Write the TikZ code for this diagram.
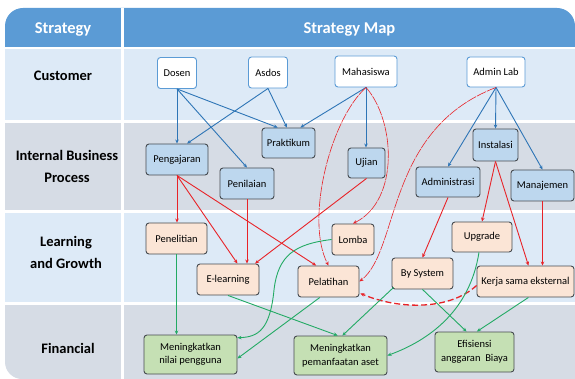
\documentclass[tikz,border=0pt]{standalone}
\usepackage{fontspec}
\setmainfont{Carlito}
\usetikzlibrary{arrows.meta,calc}
\definecolor{hdr}{RGB}{91,155,213}
\definecolor{rowblue}{RGB}{221,234,247}
\definecolor{rowgrey}{RGB}{214,220,229}
\definecolor{custborder}{RGB}{91,155,213}
\definecolor{boxborder}{RGB}{70,75,80}
\definecolor{ibpfill}{RGB}{189,215,238}
\definecolor{lgfill}{RGB}{251,229,214}
\definecolor{finfill}{RGB}{197,224,180}
\definecolor{bluel}{RGB}{46,117,182}
\definecolor{redl}{RGB}{232,35,40}
\definecolor{greenl}{RGB}{35,170,100}
\tikzset{
  base/.style={rounded corners=3pt, line width=0.9pt, inner sep=2pt,
    font=\fontsize{10.5}{13.5}\selectfont, align=center},
  cust/.style={base, draw=custborder, fill=white},
  ibp/.style={base, draw=boxborder, fill=ibpfill},
  lg/.style={base, draw=boxborder, fill=lgfill},
  fin/.style={base, draw=boxborder, fill=finfill},
  lab/.style={font=\bfseries\fontsize{14.5}{22}\selectfont, align=center},
  hlab/.style={font=\bfseries\fontsize{16.5}{20}\selectfont, text=white},
  tip/.style={-{Stealth[length=4pt,width=3.5pt]}},
  blu/.style={draw=bluel, line width=0.9pt, tip},
  rd/.style={draw=redl, line width=0.9pt, tip},
  rdthin/.style={draw=redl, line width=0.6pt, tip, dash pattern=on 10pt off 1pt},
  rddash/.style={draw=redl, line width=1.3pt, tip, dash pattern=on 6pt off 3pt},
  grn/.style={draw=greenl, line width=0.9pt, tip}
}
\begin{document}
\begin{tikzpicture}[x=1pt,y=-1pt]
\useasboundingbox (0,0) rectangle (575,379);
% backgrounds
\fill[hdr] (5,47) -- (5,26) to[out=90,in=180] (23,8) -- (557,8) to[out=0,in=90] (575,26) -- (575,47) -- cycle;
\fill[rowblue] (5,49) rectangle (575,120);
\fill[rowgrey] (5,123) rectangle (575,210);
\fill[rowblue] (5,213) rectangle (575,302);
\fill[rowgrey] (5,305) -- (5,362) to[out=-90,in=180] (22,379) -- (575,379) -- (575,305) -- cycle;
\fill[white] (121,8) rectangle (124,379);
% left labels
\node[hlab] (hs) at (63,29) {Strategy};
\node[hlab] (hm) at (349.5,29) {Strategy Map};
\node[lab] (lc) at (63,76) {Customer};
\node[lab] (li) at (67,166.5) {Internal Business\\Process};
\node[lab] (ll) at (66,252) {Learning\\and Growth};
\node[lab] (lf) at (68,348) {Financial};
% customer
\node[cust, minimum width=39, minimum height=31] (dosen) at (177,73) {Dosen};
\node[cust, minimum width=39, minimum height=31] (asdos) at (268,72.5) {Asdos};
\node[cust, minimum width=62, minimum height=31] (mahasiswa) at (366,71.5) {Mahasiswa};
\node[cust, minimum width=58, minimum height=30] (adminlab) at (496,72) {Admin Lab};
% internal business process
\node[ibp, minimum width=53, minimum height=30] (praktikum) at (288.5,143) {Praktikum};
\node[ibp, minimum width=62, minimum height=31] (pengajaran) at (177,159.5) {Pengajaran};
\node[ibp, minimum width=37, minimum height=30] (ujian) at (366.5,163) {Ujian};
\node[ibp, minimum width=54, minimum height=31] (penilaian) at (247,183.5) {Penilaian};
\node[ibp, minimum width=45, minimum height=32] (instalasi) at (495.5,145) {Instalasi};
\node[ibp, minimum width=64, minimum height=30] (administrasi) at (448,182) {Administrasi};
\node[ibp, minimum width=63, minimum height=31] (manajemen) at (542.5,185.5) {Manajemen};
% learning and growth
\node[lg, minimum width=61, minimum height=31] (penelitian) at (176.5,238.5) {Penelitian};
\node[lg, minimum width=42, minimum height=31] (lomba) at (353,239.5) {Lomba};
\node[lg, minimum width=62, minimum height=31] (elearning) at (228,279.5) {E-learning};
\node[lg, minimum width=61, minimum height=31] (pelatihan) at (328.5,281.5) {Pelatihan};
\node[lg, minimum width=60, minimum height=30] (upgrade) at (482,237) {Upgrade};
\node[lg, minimum width=61, minimum height=31] (bysystem) at (422.5,273.5) {By System};
\node[lg, minimum width=97, minimum height=31] (kerjasama) at (525.5,281.5) {Kerja sama eksternal};
% financial
\node[fin, minimum width=93, minimum height=39] (nilai) at (190.5,354.5) {Meningkatkan\\nilai pengguna};
\node[fin, minimum width=93, minimum height=39] (aset) at (340.5,355.5) {Meningkatkan\\pemanfaatan aset};
\node[fin, minimum width=79, minimum height=40] (efisiensi) at (474.5,352) {Efisiensi\\anggaran~~Biaya};
% blue connectors
\draw[blu] (dosen.south) -- (pengajaran.north);
\draw[blu] (dosen.south) -- (penilaian.north);
\draw[blu] (dosen.south) -- ($(praktikum.north west)!0.3!(praktikum.north east)$);
\draw[blu] (asdos.south) -- ($(pengajaran.north west)!0.66!(pengajaran.north east)$);
\draw[blu] (asdos.south) -- ($(praktikum.north west)!0.47!(praktikum.north east)$);
\draw[blu] (mahasiswa.south) -- ($(praktikum.north west)!0.72!(praktikum.north east)$);
\draw[blu] (mahasiswa.south) -- (mahasiswa.south |- ujian.north);
\draw[blu] (adminlab.south) -- (instalasi.north);
\draw[blu] (adminlab.south) -- (administrasi.north);
\draw[blu] (adminlab.south) -- (manajemen.north);
% red connectors
\draw[rd] (pengajaran.south) -- (pengajaran.south |- penelitian.north);
\draw[rd] (pengajaran.south) -- ($(elearning.north west)!0.65!(elearning.north east)$);
\draw[rd] (pengajaran.south) -- ($(pelatihan.north west)!0.3!(pelatihan.north east)$);
\draw[rd] (penilaian.south) -- (penilaian.south |- elearning.north);
\draw[rd] (ujian.south) -- ($(elearning.north west)!0.93!(elearning.north east)$);
\draw[rd] (administrasi.south) -- (bysystem.north);
\draw[rd] (instalasi.south) -- (upgrade.north);
\draw[rd] (instalasi.south) -- ($(kerjasama.north west)!0.53!(kerjasama.north east)$);
\draw[rd] (manajemen.south) -- (manajemen.south |- kerjasama.north);
\draw[rdthin] (mahasiswa.south) .. controls (395,120) and (400,200) .. (lomba.north);
\draw[rdthin] (mahasiswa.south) .. controls (330,120) and (305,220) .. (pelatihan.north);
\draw[rdthin] (adminlab.south) .. controls (385,130) and (400,250) .. (pelatihan.east);
\draw[rddash] ($(kerjasama.west)+(0,4)$) .. controls (450,310) and (400,310) .. ($(pelatihan.south east)+(1,-4)$);
% green connectors
\draw[grn] (penelitian.south) -- (penelitian.south |- nilai.north);
\draw[grn] (elearning.south) -- ($(aset.north west)!0.47!(aset.north east)$);
\draw[grn] ($(pelatihan.south west)!0.36!(pelatihan.south east)$) -- ($(nilai.south east)!0.4!(nilai.north east)$);
\draw[grn] (lomba.west) .. controls (295,244) and (278,255) .. (274,290) .. controls (270,330) and (258,337) .. ($(nilai.north east)!0.08!(nilai.south east)$);
\draw[grn] ($(bysystem.south west)+(2,-2)$) -- ($(aset.north west)!0.52!(aset.north east)$);
\draw[grn] ($(upgrade.south west)!0.45!(upgrade.south east)$) .. controls (470,310) and (430,340) .. (aset.east);
\draw[grn] (bysystem.south) -- ($(efisiensi.north west)!0.4!(efisiensi.north east)$);
\draw[grn] ($(kerjasama.south west)!0.53!(kerjasama.south east)$) -- ($(efisiensi.north west)!0.53!(efisiensi.north east)$);
\end{tikzpicture}
\end{document}
